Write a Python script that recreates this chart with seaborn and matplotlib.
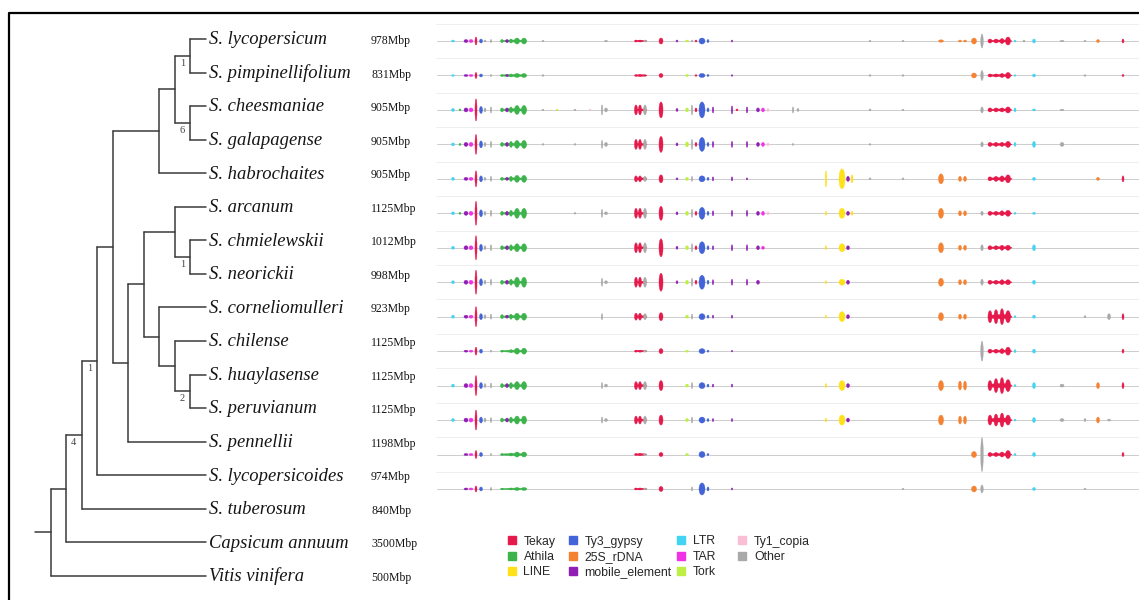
import matplotlib
matplotlib.use("Agg")
import matplotlib.pyplot as plt
from matplotlib.patches import Ellipse
from matplotlib.lines import Line2D
import pandas as pd
import seaborn as sns

# ---------------------------------------------------------------- data
SPECIES = ["S. lycopersicum", "S. pimpinellifolium", "S. cheesmaniae", "S. galapagense",
           "S. habrochaites", "S. arcanum", "S. chmielewskii", "S. neorickii",
           "S. corneliomulleri", "S. chilense", "S. huaylasense", "S. peruvianum",
           "S. pennellii", "S. lycopersicoides", "S. tuberosum", "Capsicum annuum",
           "Vitis vinifera"]
GENOME_MBP = [978, 831, 905, 905, 905, 1125, 1012, 998, 923, 1125, 1125, 1125,
              1198, 974, 840, 3500, 500]

# clade = (support label or None, child, child); leaves are species names
TREE = (None,
        (None,
         ("4",
          ("1",
           (None,
            (None,
             (None, ("1", "S. lycopersicum", "S. pimpinellifolium"),
                    ("6", "S. cheesmaniae", "S. galapagense")),
             "S. habrochaites"),
            (None,
             (None,
              (None, "S. arcanum", ("1", "S. chmielewskii", "S. neorickii")),
              (None, "S. corneliomulleri",
               (None, "S. chilense", ("2", "S. huaylasense", "S. peruvianum")))),
             "S. pennellii")),
           "S. lycopersicoides"),
          "S. tuberosum"),
         "Capsicum annuum"),
        "Vitis vinifera")

REPEAT_CLASSES = ["Tekay", "Athila", "LINE", "Ty3_gypsy", "25S_rDNA", "mobile_element",
                  "LTR", "TAR", "Tork", "Ty1_copia", "Other"]
CLASS_COLORS = ["#e6194b", "#3cb44b", "#ffe119", "#4363d8", "#f58231", "#911eb4",
                "#42d4f4", "#f032e6", "#bfef45", "#fabed4", "#a9a9a9"]

# repeat blocks on the aligned chromosome: centre, length and class
BLOCK_POS = [453, 460, 466, 471, 476, 481, 485, 491, 502, 507,
             511, 517, 524, 543, 557, 575, 590, 602, 606, 636,
             640, 645, 661, 677, 687, 692, 696, 702, 708, 713,
             732, 737, 747, 758, 763, 768, 793, 798, 826, 842,
             848, 852, 870, 903, 941, 960, 965, 974, 982, 990,
             996, 1002, 1008, 1015, 1024, 1034, 1062, 1085, 1098, 1109,
             1123, 1000, 514, 641]
BLOCK_LEN = [3, 2, 4, 4, 2, 3, 2, 1.5, 3, 3,
             3, 5, 5, 2, 2, 2, 2, 1.5, 3, 3,
             3, 3, 4, 2, 3, 1.5, 2, 6, 2, 1.5,
             1.5, 2, 1.5, 3, 3, 2, 1.5, 2, 1.5, 6,
             3, 2, 2, 2, 5, 3, 3, 5, 2.5, 4,
             4, 4, 5, 2, 2, 3, 4, 2, 3, 3,
             2, 24, 26, 12]
BLOCK_CLASS = ["LTR", "Athila", "mobile_element", "TAR", "Tekay", "Ty3_gypsy", "Other", "Other", "Athila", "mobile_element",
               "Athila", "Athila", "Athila", "Other", "Tork", "Other", "Ty1_copia", "Other", "Other", "Tekay",
               "Tekay", "Other", "Tekay", "mobile_element", "Tork", "Other", "Tekay", "Ty3_gypsy", "Ty3_gypsy", "mobile_element",
               "mobile_element", "Tekay", "mobile_element", "mobile_element", "TAR", "Ty1_copia", "Other", "Other", "LINE", "LINE",
               "mobile_element", "LINE", "Other", "Other", "25S_rDNA", "25S_rDNA", "25S_rDNA", "25S_rDNA", "Other", "Tekay",
               "Tekay", "Tekay", "Tekay", "LTR", "Other", "LTR", "Other", "Other", "25S_rDNA", "Other",
               "Tekay", "Tekay", "Athila", "Tekay"]

# block abundance per tomato species (block index -> depth)
BLOCK_DEPTH = [
    {0: 1, 2: 1.5, 3: 1.5, 4: 4, 5: 2, 6: 1, 7: 1.5, 8: 1.5, 9: 1.5, 10: 2, 11: 3, 12: 3, 13: 0.8,
     18: 0.8, 19: 1, 20: 1, 21: 1, 22: 3, 23: 1, 24: 1, 25: 1, 26: 1, 27: 3, 28: 1.5, 30: 1,
     42: 0.8, 43: 0.8, 44: 1.2, 45: 1, 46: 1, 47: 3, 48: 7, 49: 2, 50: 2, 51: 2.5, 52: 4, 53: 1,
     54: 1, 55: 2, 56: 0.8, 57: 0.8, 58: 1.5, 60: 2, 61: 1, 62: 1, 63: 0.8},
    {0: 0.8, 2: 1, 3: 1, 4: 3, 5: 1.5, 7: 1, 8: 1, 9: 1, 10: 1.5, 11: 2, 12: 2, 13: 0.8, 19: 0.8,
     20: 0.8, 21: 0.8, 22: 2, 24: 1, 26: 0.8, 27: 2, 28: 1, 30: 0.8, 42: 0.8, 43: 0.8, 47: 2.5,
     48: 5, 49: 1.5, 50: 1.5, 51: 2, 52: 3, 53: 0.8, 55: 1.5, 57: 0.8, 60: 1, 61: 1, 62: 1, 63: 0.8},
    {0: 1.5, 1: 1, 2: 2, 3: 2, 4: 11, 5: 3.5, 6: 2, 7: 3, 8: 2, 9: 2, 10: 3, 11: 4.5, 12: 4.5,
     13: 0.8, 14: 0.8, 15: 0.8, 16: 0.8, 17: 5, 18: 2, 19: 5, 20: 5, 21: 5, 22: 8, 23: 1.5, 24: 2,
     25: 5, 26: 2, 27: 8, 28: 2, 29: 3, 30: 4, 31: 1, 32: 3, 33: 2, 34: 2, 35: 1.5, 36: 3, 37: 1.5,
     42: 1, 43: 0.8, 48: 3, 49: 2, 50: 2, 51: 2, 52: 3, 53: 2, 55: 1, 56: 0.8, 61: 1, 62: 1.2, 63: 1},
    {0: 1.5, 1: 1, 2: 2, 3: 2, 4: 10, 5: 3.5, 6: 2, 7: 3, 8: 2, 9: 2, 10: 3, 11: 4, 12: 4, 13: 0.8,
     15: 0.8, 17: 4, 18: 2, 19: 5, 20: 5, 21: 5, 22: 8, 23: 1.5, 24: 2.5, 25: 5, 26: 2, 27: 7, 28: 2,
     29: 3, 30: 3, 32: 3, 33: 2, 34: 2, 35: 1.5, 36: 1, 42: 0.8, 48: 2.5, 49: 2, 50: 2, 51: 2,
     52: 3, 53: 2, 55: 3, 56: 2, 61: 1, 62: 1.2, 63: 1},
    {0: 1.5, 2: 1.5, 3: 1.5, 4: 8, 5: 3, 6: 1.5, 7: 2.5, 8: 1.5, 9: 1.5, 10: 2.5, 11: 3.5, 12: 3.5,
     19: 3, 20: 3, 21: 2.5, 22: 4, 23: 1, 24: 1.5, 25: 2.5, 27: 3, 28: 1.5, 29: 2, 30: 2, 32: 1,
     38: 8, 39: 10, 40: 2.5, 41: 4, 42: 1, 43: 1, 44: 5, 45: 2.5, 46: 2.5, 49: 2, 50: 2.5, 51: 3,
     52: 4, 55: 1.5, 58: 1.5, 60: 3, 61: 1.2, 62: 1, 63: 1},
    {0: 1.5, 1: 1, 2: 2, 3: 2, 4: 12, 5: 3.5, 6: 2, 7: 3, 8: 2, 9: 2, 10: 3, 11: 5, 12: 5, 15: 0.8,
     17: 4, 18: 1.5, 19: 5, 20: 5, 21: 5, 22: 7, 23: 1.5, 24: 2, 25: 4, 26: 2, 27: 6, 28: 2, 29: 2.5,
     30: 3, 32: 3, 33: 2, 34: 2, 35: 1.5, 38: 2, 39: 5, 40: 2, 41: 2, 44: 5, 45: 2.5, 46: 2.5, 48: 2,
     49: 2, 50: 2, 51: 2.5, 52: 3, 53: 1, 55: 1, 61: 1, 62: 1.2, 63: 1},
    {0: 1.5, 2: 2, 3: 2, 4: 12, 5: 3.5, 6: 2, 7: 3, 8: 2, 9: 2, 10: 3, 11: 4, 12: 4, 19: 5, 20: 5,
     21: 5, 22: 9, 23: 1.5, 24: 2, 25: 4, 26: 2, 27: 6, 28: 2, 29: 2, 30: 3, 32: 3, 33: 2, 34: 1.5,
     38: 2, 39: 4, 40: 2, 44: 5, 45: 2.5, 46: 2.5, 48: 3, 49: 2, 50: 2, 51: 2.5, 52: 2.5, 55: 3,
     61: 1, 62: 1.2, 63: 1},
    {0: 1.5, 2: 2, 3: 2, 4: 12, 5: 3.5, 6: 2, 7: 3, 8: 2, 9: 2, 10: 3, 11: 5, 12: 5, 17: 4, 18: 1.5,
     19: 5, 20: 5, 21: 5, 22: 9, 23: 1.5, 24: 2, 25: 4, 26: 2, 27: 7, 28: 2, 29: 2.5, 30: 3, 32: 3,
     33: 2, 38: 1.5, 39: 3, 40: 2, 44: 4, 45: 2.5, 46: 2.5, 48: 3, 49: 2, 50: 2, 51: 2.5, 52: 2.5,
     55: 2, 61: 1, 62: 1.2, 63: 1},
    {0: 1.5, 2: 1.5, 3: 1.5, 4: 10, 5: 3, 6: 2, 7: 2.5, 8: 2, 9: 1.5, 10: 2.5, 11: 3.5, 12: 3.5,
     17: 3, 19: 3.5, 20: 3.5, 21: 3, 22: 4, 24: 1.5, 25: 2.5, 27: 3, 28: 1.5, 29: 1.5, 30: 1.5,
     38: 1.5, 39: 5, 40: 2, 44: 4, 45: 2.5, 46: 2.5, 49: 6, 50: 7, 51: 8, 52: 6, 53: 1, 55: 1.5,
     57: 1, 59: 3, 60: 3, 61: 2, 62: 1, 63: 1},
    {2: 1, 3: 1, 4: 4, 5: 2, 7: 1, 8: 1, 10: 1.5, 11: 3, 12: 3, 19: 1, 20: 1, 21: 1, 22: 2.5, 24: 1,
     27: 2.5, 28: 1, 30: 0.8, 48: 10, 49: 2, 50: 2, 51: 2.5, 52: 4, 53: 1.5, 55: 2, 60: 2, 61: 1,
     62: 1, 63: 0.8},
    {0: 1.5, 2: 2, 3: 2, 4: 10, 5: 3, 6: 2, 7: 2.5, 8: 2, 9: 2, 10: 3, 11: 4, 12: 4, 17: 3, 18: 1.5,
     19: 4, 20: 4, 21: 4, 22: 5, 24: 1.5, 25: 3, 27: 3, 28: 1.5, 29: 1.5, 30: 1.5, 38: 2, 39: 5,
     40: 2, 44: 5, 45: 4.5, 46: 4.5, 49: 5, 50: 7, 51: 8, 52: 6, 53: 1, 55: 3, 56: 1.5, 58: 3,
     60: 3, 61: 2, 62: 1, 63: 1},
    {0: 1.5, 2: 2, 3: 2, 4: 10, 5: 3, 6: 2, 7: 2.5, 8: 2, 9: 2, 10: 3, 11: 4, 12: 4, 17: 3, 18: 1.5,
     19: 4, 20: 4, 21: 4, 22: 5, 24: 1.5, 25: 3, 27: 3, 28: 1.5, 29: 1.5, 30: 1.5, 38: 2, 39: 5,
     40: 2, 44: 5, 45: 4, 46: 4, 49: 5, 50: 6, 51: 7, 52: 5, 53: 1, 55: 2.5, 56: 1.5, 57: 1.5,
     58: 3, 59: 1, 61: 2, 62: 1, 63: 1},
    {2: 1, 3: 1, 4: 4, 5: 2, 7: 1, 8: 1, 10: 1.5, 11: 2.5, 12: 2.5, 19: 1, 20: 1, 21: 1, 22: 2,
     24: 1, 27: 3, 28: 1, 47: 3, 48: 17, 49: 2, 50: 2, 51: 2.5, 52: 4, 53: 1, 55: 2, 60: 2, 61: 1,
     62: 1, 63: 0.8},
    {2: 1, 3: 1, 4: 3, 5: 2, 7: 1.5, 8: 0.8, 10: 1, 11: 1.5, 12: 1.5, 19: 1, 20: 1, 21: 1, 22: 2.5,
     25: 2, 27: 6, 28: 2, 30: 1, 43: 0.8, 47: 3, 48: 4, 55: 1.5, 57: 0.8, 62: 0.8, 63: 0.8},
]

# ---------------------------------------------------------------- style
sns.set_theme(style="white")
plt.rcParams["font.family"] = ["Liberation Serif", "DejaVu Serif"]
palette = dict(zip(REPEAT_CLASSES, sns.color_palette(CLASS_COLORS)))

W, H = 1139, 600
fig = plt.figure(figsize=(W / 100, H / 100), dpi=100)
fig.patch.set_facecolor("white")

# ---------------------------------------------------------------- tree panel
tree_ax = fig.add_axes([0, 0, 1, 1])

TIP_X, LEVEL_STEP = 205.5, 15.5
ROW0, ROW_STEP = 39.0, 33.56
leaf_y = {name: ROW0 + ROW_STEP * i for i, name in enumerate(SPECIES)}
segments, supports = [], []


def place(node):
    """Return (x, y, level, support) of a clade and collect its branch segments."""
    if isinstance(node, str):
        return TIP_X, leaf_y[node], 0, None
    support, *children = node
    kids = [place(ch) for ch in children]
    level = max(k[2] for k in kids) + 1
    x = TIP_X - LEVEL_STEP * level
    ys = [k[1] for k in kids]
    y = (ys[0] + ys[-1]) / 2
    segments.append((x, ys[0], x, ys[-1]))
    for cx, cy, _, csup in kids:
        segments.append((x, cy, cx, cy))
        if csup is not None:
            supports.append(((x + cx) / 2, cy + 7.5, csup))
    return x, y, level, support


root_x, root_y, _, _ = place(TREE)
segments.append((root_x - LEVEL_STEP, root_y, root_x, root_y))

seg_df = pd.DataFrame(
    [(i, x0, y0) for i, (x0, y0, x1, y1) in enumerate(segments)]
    + [(i, x1, y1) for i, (x0, y0, x1, y1) in enumerate(segments)],
    columns=["seg", "x", "y"])
sns.lineplot(data=seg_df, x="x", y="y", units="seg", estimator=None, sort=False,
             color="#3a3a3a", lw=1.1, ax=tree_ax, legend=False)
tree_ax.set_xlim(0, W)
tree_ax.set_ylim(H, 0)
tree_ax.axis("off")

for sx, sy, lab in supports:
    tree_ax.text(sx, sy, lab, ha="center", va="center", fontsize=7.5, color="#444444")

for name, size in zip(SPECIES, GENOME_MBP):
    y = leaf_y[name]
    tree_ax.text(209, y + 5.3, name, fontstyle="italic", fontsize=13.4, color="#151515",
                 va="baseline", ha="left")
    tree_ax.text(371, y + 5.0, f"{size}Mbp", fontsize=8.5, color="#151515",
                 va="baseline", ha="left")

# outer frame
tree_ax.plot([9, 9, W], [H, 13, 13], color="black", lw=1.6, solid_capstyle="butt")

# ---------------------------------------------------------------- repeat tracks
n_tracks = len(BLOCK_DEPTH)
panel_top, panel_bottom, panel_left = 23.8, 506.2, 436
track_ax = fig.add_axes([panel_left / W, 1 - panel_bottom / H,
                         (W - panel_left) / W, (panel_bottom - panel_top) / H])
row_px = (panel_bottom - panel_top) / n_tracks

for k in range(n_tracks + 1):
    track_ax.axhline(k - 0.5, color="#eeeeee", lw=0.7, zorder=0)

base_df = pd.DataFrame({"track": [t for t in range(n_tracks) for _ in (0, 1)],
                        "pos": [panel_left + 1, W] * n_tracks})
sns.lineplot(data=base_df, x="pos", y="track", units="track", estimator=None,
             color="#cdcdcd", lw=0.7, ax=track_ax, legend=False, zorder=1)

blocks = pd.DataFrame([
    {"track": t, "pos": BLOCK_POS[j], "length": BLOCK_LEN[j],
     "cls": BLOCK_CLASS[j], "depth": d}
    for t, row in enumerate(BLOCK_DEPTH) for j, d in row.items()
]).sort_values("depth")

for b in blocks.itertuples():
    col = palette[b.cls]
    track_ax.add_patch(Ellipse((b.pos, b.track), b.length, 2 * b.depth / row_px,
                               facecolor=col, edgecolor=col, lw=0.3, zorder=2))

track_ax.set_xlim(panel_left, W)
track_ax.set_ylim(n_tracks - 0.5, -0.5)
track_ax.axis("off")

# ---------------------------------------------------------------- legend (one block per column)
legend_cols = [REPEAT_CLASSES[0:3], REPEAT_CLASSES[3:6], REPEAT_CLASSES[6:9], REPEAT_CLASSES[9:11]]
col_left = [507, 568, 676, 737.5]
for names, left in zip(legend_cols, col_left):
    handles = [Line2D([], [], marker="s", ls="", markersize=6, color=palette[c]) for c in names]
    fig.legend(handles, names, loc="upper left", bbox_to_anchor=(left / W, 1 - 535.5 / H),
               frameon=False, borderpad=0, borderaxespad=0, handlelength=0.8,
               handletextpad=0.55, labelspacing=0.27,
               prop={"family": "Liberation Sans", "size": 8.8})

fig.savefig("out.png", dpi=100, facecolor="white")
